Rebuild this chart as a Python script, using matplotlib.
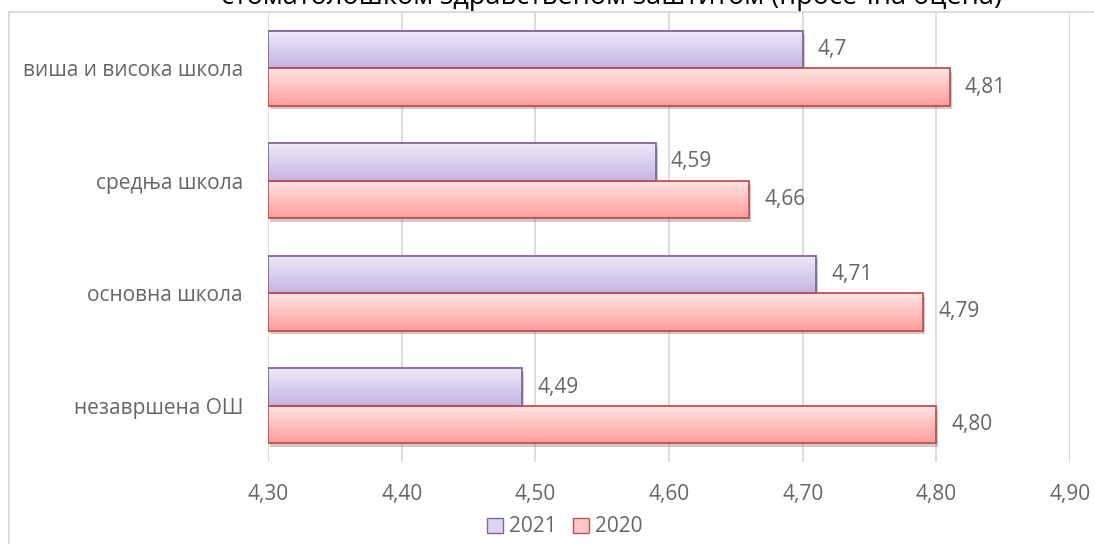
import matplotlib.pyplot as plt
import numpy as np
from matplotlib.patches import Patch, Rectangle
import matplotlib.patheffects as pe

plt.rcParams['font.family'] = ['Open Sans', 'DejaVu Sans']

# data (bottom to top, as drawn)
categories = ['незавршена ОШ', 'основна школа', 'средња школа', 'виша и висока школа']
vals_2021 = [4.49, 4.71, 4.59, 4.70]
vals_2020 = [4.80, 4.79, 4.66, 4.81]
labels_2021 = ['4,49', '4,71', '4,59', '4,7']
labels_2020 = ['4,80', '4,79', '4,66', '4,81']
xticks = [4.30, 4.40, 4.50, 4.60, 4.70, 4.80, 4.90]
xtick_labels = ['4,30', '4,40', '4,50', '4,60', '4,70', '4,80', '4,90']
title = 'стоматолошком здравственом заштитом (просечна оцена)'

gray = '#666666'
h = 1 / 3
y = np.arange(len(categories))

fig = plt.figure(figsize=(10.94, 5.44), dpi=100)
ax = fig.add_axes([268 / 1094, 1 - 462 / 544, (1070 - 268) / 1094, 450 / 544])


def grad_bars(vals, offset, top_col, bot_col, edge):
    # base bar with a soft shadow
    base = ax.barh(y + offset, np.array(vals) - xticks[0], left=xticks[0], height=h,
                   color=bot_col, edgecolor='none', zorder=2,
                   path_effects=[pe.SimplePatchShadow(offset=(1.5, -2.5), alpha=0.25),
                                 pe.Normal()])
    # vertical gradient on top of each bar
    c1 = np.array(plt.matplotlib.colors.to_rgb(top_col))
    c2 = np.array(plt.matplotlib.colors.to_rgb(bot_col))
    t = np.linspace(0, 1, 64)[:, None]
    img = (c1 * (1 - t) + c2 * t)[:, None, :]
    for b in base:
        x0, y0 = b.get_x(), b.get_y()
        ax.imshow(img, extent=[x0, x0 + b.get_width(), y0, y0 + b.get_height()],
                  aspect='auto', origin='upper', zorder=3, interpolation='bilinear')
    ax.barh(y + offset, np.array(vals) - xticks[0], left=xticks[0], height=h,
            facecolor='none', edgecolor=edge, linewidth=1.3, zorder=4)
    return base


b21 = grad_bars(vals_2021, h / 2, '#eeeaf8', '#c5b4e3', '#8064a2')
b20 = grad_bars(vals_2020, -h / 2, '#ffe6e6', '#ff9c9c', '#c0504d')

for v, yy, lab in zip(vals_2021, y + h / 2, labels_2021):
    ax.annotate(lab, (v, yy), xytext=(11, 0), textcoords='offset points',
                va='center', ha='left', fontsize=15, color=gray)
for v, yy, lab in zip(vals_2020, y - h / 2, labels_2020):
    ax.annotate(lab, (v, yy), xytext=(11, 0), textcoords='offset points',
                va='center', ha='left', fontsize=15, color=gray)

ax.set_xlim(xticks[0], xticks[-1])
ax.set_ylim(-0.5, len(categories) - 0.5)
ax.set_xticks(xticks)
ax.set_xticklabels(xtick_labels)
ax.set_yticks(y)
ax.set_yticklabels(categories)
ax.tick_params(axis='x', length=0, pad=16, labelsize=15, labelcolor=gray)
ax.tick_params(axis='y', length=0, pad=18, labelsize=15, labelcolor=gray)
ax.grid(axis='x', color='#d9d9d9', linewidth=1.3, zorder=0)
ax.set_axisbelow(True)
for s in ax.spines.values():
    s.set_visible(False)

# outer chart frame (cut off on the right and bottom)
fig.add_artist(Rectangle((9 / 1094, -0.1), 1.2, 1.1 - 12 / 544, transform=fig.transFigure,
                         facecolor='none', edgecolor='#d9d9d9', linewidth=1.3))

# title, mostly outside the picture as in the reference
fig.text(612 / 1094, 1 - 4 / 544, title, ha='center', va='baseline', fontsize=19.5, color='black')

handles = [Patch(facecolor='#ddd4f0', edgecolor='#8064a2', label='2021'),
           Patch(facecolor='#ffc8c8', edgecolor='#c0504d', label='2020')]
leg = fig.legend(handles=handles, loc='center', bbox_to_anchor=(565 / 1094, 1 - 527 / 544),
                 ncol=2, frameon=False, fontsize=15, labelcolor=gray,
                 handlelength=0.75, handleheight=0.75, handletextpad=0.3, columnspacing=0.8)

fig.savefig('out.png', dpi=100)
